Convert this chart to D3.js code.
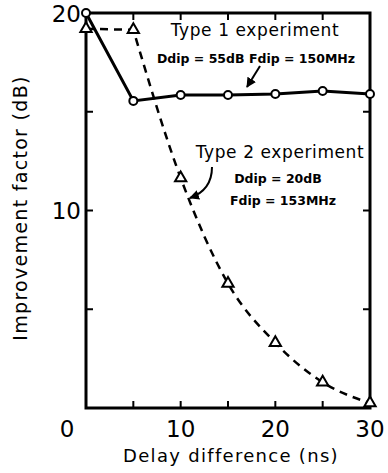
<!DOCTYPE html>
<html>
<head>
<meta charset="utf-8">
<script src="https://cdn.jsdelivr.net/npm/d3@7/dist/d3.min.js"></script>
<style>
  body { margin: 0; background: #fff; }
  text { font-family: "DejaVu Sans", sans-serif; fill: #000; }
</style>
</head>
<body>
<div id="chart"></div>
<script>
// delay difference (ns)
const delays = [0, 5, 10, 15, 20, 25, 30];
// improvement factor (dB)
const type1 = [20, 15.55, 15.85, 15.85, 15.9, 16.05, 15.9];
const type2 = [19.2, 19.15, 11.65, 6.3, 3.3, 1.3, 0.25];
const xTickLabels = [10, 20, 30];
const yTickLabels = [10, 20];
const minorTicks = [5, 10, 15, 20, 25];
const yMinorTicks = [5, 10, 15];

const width = 388, height = 473;
const margin = { top: 13, right: 18, bottom: 65, left: 86 };
const innerW = width - margin.left - margin.right;
const innerH = height - margin.top - margin.bottom;

const svg = d3.select('#chart').append('svg')
  .attr('width', width)
  .attr('height', height);

const g = svg.append('g')
  .attr('transform', 'translate(' + margin.left + ',' + margin.top + ')');

const x = d3.scaleLinear().domain([0, 30]).range([0, innerW]);
const y = d3.scaleLinear().domain([0, 20]).range([innerH, 0]);

/* ---------- frame ---------- */
g.append('rect')
  .attr('width', innerW)
  .attr('height', innerH)
  .attr('fill', 'none')
  .attr('stroke', '#000')
  .attr('stroke-width', 3);

/* ---------- inward ticks ---------- */
const tickLen = 7;
g.selectAll('.xt-bottom').data(minorTicks).enter().append('line')
  .attr('x1', d => x(d)).attr('x2', d => x(d))
  .attr('y1', innerH).attr('y2', innerH - tickLen)
  .attr('stroke', '#000').attr('stroke-width', 2);
g.selectAll('.xt-top').data(minorTicks).enter().append('line')
  .attr('x1', d => x(d)).attr('x2', d => x(d))
  .attr('y1', 0).attr('y2', tickLen)
  .attr('stroke', '#000').attr('stroke-width', 2);
g.selectAll('.yt-left').data(yMinorTicks).enter().append('line')
  .attr('x1', 0).attr('x2', tickLen)
  .attr('y1', d => y(d)).attr('y2', d => y(d))
  .attr('stroke', '#000').attr('stroke-width', 2);
g.selectAll('.yt-right').data(yMinorTicks).enter().append('line')
  .attr('x1', innerW).attr('x2', innerW - tickLen)
  .attr('y1', d => y(d)).attr('y2', d => y(d))
  .attr('stroke', '#000').attr('stroke-width', 2);

/* ---------- tick labels ---------- */
g.selectAll('.xl').data(xTickLabels).enter().append('text')
  .attr('x', d => x(d)).attr('y', innerH + 22)
  .attr('text-anchor', 'middle').attr('dominant-baseline', 'middle')
  .style('font-size', '23px')
  .text(d => d);
g.selectAll('.yl').data(yTickLabels).enter().append('text')
  .attr('x', -5).attr('y', d => y(d) + 2)
  .attr('text-anchor', 'end').attr('dominant-baseline', 'middle')
  .style('font-size', '23px')
  .text(d => d);
g.append('text')
  .attr('x', -19).attr('y', innerH + 22)
  .attr('text-anchor', 'middle').attr('dominant-baseline', 'middle')
  .style('font-size', '23px')
  .text('0');

/* ---------- axis titles ---------- */
g.append('text')
  .attr('x', innerW / 2 + 3).attr('y', innerH + 54)
  .attr('text-anchor', 'middle')
  .style('font-size', '18px').style('letter-spacing', '1.3px')
  .text('Delay difference (ns)');
svg.append('text')
  .attr('transform', 'translate(27,' + 208 + ') rotate(-90)')
  .attr('text-anchor', 'middle')
  .style('font-size', '19px').style('letter-spacing', '1.3px')
  .text('Improvement factor (dB)');

/* ---------- series ---------- */
const pts1 = delays.map((d, i) => [d, type1[i]]);
const pts2 = delays.map((d, i) => [d, type2[i]]);

const line = d3.line().x(d => x(d[0])).y(d => y(d[1]));
const curve = d3.line().x(d => x(d[0])).y(d => y(d[1])).curve(d3.curveMonotoneX);

g.append('path')
  .attr('d', line(pts1))
  .attr('fill', 'none').attr('stroke', '#000').attr('stroke-width', 3);

g.append('path')
  .attr('d', line(pts2.slice(0, 2)) + curve(pts2.slice(1)).replace(/^M/, 'L'))
  .attr('fill', 'none').attr('stroke', '#000').attr('stroke-width', 2.5)
  .attr('stroke-dasharray', '8,6');

g.selectAll('.c1').data(pts1).enter().append('circle')
  .attr('cx', d => x(d[0])).attr('cy', d => y(d[1]))
  .attr('r', 4)
  .attr('fill', '#fff').attr('stroke', '#000').attr('stroke-width', 2);

const tri = d3.symbol().type(d3.symbolTriangle).size(55);
g.selectAll('.t2').data(pts2).enter().append('path')
  .attr('d', tri)
  .attr('transform', d => 'translate(' + x(d[0]) + ',' + y(d[1]) + ')')
  .attr('fill', '#fff').attr('stroke', '#000').attr('stroke-width', 2);

/* ---------- annotations ---------- */
svg.append('defs').append('marker')
  .attr('id', 'ah').attr('viewBox', '0 0 10 10')
  .attr('refX', 9).attr('refY', 5)
  .attr('markerWidth', 5).attr('markerHeight', 5)
  .attr('orient', 'auto')
  .append('path').attr('d', 'M0,0L10,5L0,10Z').attr('fill', '#000');

svg.append('text')
  .attr('x', 255).attr('y', 36)
  .attr('text-anchor', 'middle')
  .style('font-size', '17px').style('letter-spacing', '0.6px')
  .text('Type 1 experiment');
svg.append('text')
  .attr('x', 256).attr('y', 63)
  .attr('text-anchor', 'middle')
  .style('font-size', '12.5px').style('font-weight', 'bold')
  .text('Ddip = 55dB  Fdip = 150MHz');
svg.append('path')
  .attr('d', 'M260,66 L247,87')
  .attr('fill', 'none').attr('stroke', '#000').attr('stroke-width', 2)
  .attr('marker-end', 'url(#ah)');

svg.append('text')
  .attr('x', 280).attr('y', 158)
  .attr('text-anchor', 'middle')
  .style('font-size', '17px').style('letter-spacing', '0.6px')
  .text('Type 2 experiment');
svg.append('text')
  .attr('x', 278).attr('y', 183)
  .attr('text-anchor', 'middle')
  .style('font-size', '12.5px').style('font-weight', 'bold')
  .text('Ddip = 20dB');
svg.append('text')
  .attr('x', 283).attr('y', 205)
  .attr('text-anchor', 'middle')
  .style('font-size', '12.5px').style('font-weight', 'bold')
  .text('Fdip = 153MHz');
svg.append('path')
  .attr('d', 'M212,167 Q212,190 190,198')
  .attr('fill', 'none').attr('stroke', '#000').attr('stroke-width', 2)
  .attr('marker-end', 'url(#ah)');
</script>
</body>
</html>
